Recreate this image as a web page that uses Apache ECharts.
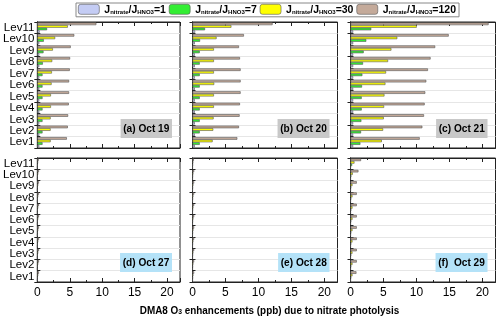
<!DOCTYPE html>
<html><head><meta charset="utf-8">
<script src="https://cdn.jsdelivr.net/npm/echarts@6/dist/echarts.min.js"></script>
<style>html,body{margin:0;padding:0;background:#fff}#c{width:500px;height:319px}</style>
</head><body><div id="c"></div>
<script>
const levels = ['Lev1','Lev2','Lev3','Lev4','Lev5','Lev6','Lev7','Lev8','Lev9','Lev10','Lev11'];
const seriesNames = ['=1','=7','=30','=120'];
const xTicks = [0,5,10,15,20];
const panelLabels = ['(a) Oct 19','(b) Oct 20','(c) Oct 21','(d) Oct 27','(e) Oct 28','(f)  Oct 29'];

// values Lev1..Lev11
const a_r1   = [0.3,0.3,0.3,0.3,0.3,0.3,0.3,0.3,0.3,0.3,0.35];
const a_r7   = [0.8,0.8,0.8,0.8,0.8,0.8,0.8,0.85,0.95,1.0,1.5];
const a_r30  = [2.05,2.05,2.05,2.1,2.1,2.2,2.25,2.3,2.4,2.75,4.7];
const a_r120 = [4.55,4.7,4.75,4.85,4.9,4.9,5.0,5.05,5.15,5.7,9.1];

const b_r1   = [0.35,0.35,0.35,0.35,0.35,0.35,0.35,0.35,0.35,0.35,0.4];
const b_r7   = [1.1,1.1,1.1,1.1,1.1,1.1,1.1,1.1,1.1,1.15,1.9];
const b_r30  = [3.05,3.15,3.2,3.25,3.25,3.3,3.25,3.25,3.25,3.65,5.9];
const b_r120 = [6.8,7.05,7.15,7.2,7.3,7.3,7.3,7.2,7.05,7.8,12.15];

const c_r1   = [0.4,0.4,0.4,0.4,0.4,0.4,0.4,0.4,0.4,0.4,0.4];
const c_r7   = [1.5,1.6,1.65,1.7,1.7,1.75,1.8,1.9,2.0,2.4,3.15];
const c_r30  = [4.75,4.95,5.05,5.1,5.15,5.3,5.4,5.7,6.2,7.1,10.05];
const c_r120 = [10.5,10.9,11.15,11.25,11.35,11.5,11.75,12.15,12.85,14.9,20.95];

const d_r1   = [0.02,0.02,0.02,0.02,0.02,0.02,0.02,0.02,0.02,0.02,0.02];
const d_r7   = [0.05,0.05,0.05,0.05,0.05,0.05,0.05,0.05,0.05,0.05,0.05];
const d_r30  = [0.12,0.12,0.12,0.12,0.12,0.12,0.12,0.12,0.12,0.12,0.1];
const d_r120 = [0.25,0.25,0.25,0.25,0.25,0.25,0.25,0.25,0.25,0.25,0.2];

const e_r1   = [0.02,0.02,0.02,0.02,0.02,0.02,0.02,0.02,0.02,0.02,0.02];
const e_r7   = [0.05,0.05,0.05,0.05,0.05,0.05,0.05,0.05,0.05,0.05,0.05];
const e_r30  = [0.12,0.12,0.12,0.12,0.12,0.12,0.12,0.12,0.12,0.12,0.1];
const e_r120 = [0.25,0.25,0.25,0.25,0.25,0.25,0.25,0.25,0.25,0.25,0.2];

const f_r1   = [0.03,0.03,0.03,0.03,0.03,0.03,0.03,0.03,0.03,0.03,0.03];
const f_r7   = [0.1,0.1,0.1,0.1,0.1,0.1,0.1,0.1,0.1,0.12,0.25];
const f_r30  = [0.3,0.3,0.3,0.3,0.3,0.3,0.3,0.3,0.3,0.35,0.6];
const f_r120 = [0.9,0.95,0.95,0.95,0.95,0.95,0.95,0.95,0.95,1.2,1.6];

const panels = [
  [a_r1,a_r7,a_r30,a_r120],[b_r1,b_r7,b_r30,b_r120],[c_r1,c_r7,c_r30,c_r120],
  [d_r1,d_r7,d_r30,d_r120],[e_r1,e_r7,e_r30,e_r120],[f_r1,f_r7,f_r30,f_r120]
];

const colors = ['#c4ccf4','#33ee33','#ffff00','#c4aa9a'];
const gridPos = [
  {left:36,top:22,width:144,height:126},{left:192.5,top:22,width:145,height:126},{left:350.5,top:22,width:145,height:126},
  {left:36,top:158,width:144,height:124},{left:192.5,top:158,width:145,height:124},{left:350.5,top:158,width:145,height:124}
];
const labelBg = ['#c8c8c8','#c8c8c8','#c8c8c8','#b4e2f8','#b4e2f8','#b4e2f8'];

const FONT = '"Liberation Sans", Arial, sans-serif';
const grids=[], xAxes=[], yAxes=[], series=[], graphics=[];
gridPos.forEach((g,i)=>{
  grids.push(Object.assign({show:true,borderColor:'#222',borderWidth:1,backgroundColor:'#fff'},g));
  const baseX = {gridIndex:i,type:'value',min:0,max:22,interval:5,
    axisLine:{show:true,lineStyle:{color:'#222',width:1}},
    axisTick:{show:true,inside:true,length:4,lineStyle:{color:'#222'}},
    minorTick:{show:true,splitNumber:2,length:2,lineStyle:{color:'#222'}},
    splitLine:{show:false}};
  xAxes.push(Object.assign({},baseX,{position:'bottom',
    axisLabel:{show:i>=3,color:'#000',fontSize:12,fontFamily:FONT,margin:5,
      formatter:v=>xTicks.includes(v)?String(v):''}}));
  xAxes.push(Object.assign({},baseX,{position:'top',axisLabel:{show:false}}));
  const baseY = {gridIndex:i,type:'category',data:levels,
    axisLine:{show:true,lineStyle:{color:'#222'}},
    axisTick:{show:true,inside:true,length:3,lineStyle:{color:'#222'}}};
  yAxes.push(Object.assign({},baseY,{position:'left',
    splitLine:{show:true,lineStyle:{color:'#e6e6e6',width:1}},
    axisLabel:{show:i%3===0,interval:0,color:'#000',fontSize:11.5,fontFamily:FONT,margin:3}}));
  yAxes.push(Object.assign({},baseY,{position:'right',axisLabel:{show:false},splitLine:{show:false}}));
  // series placed first appear at top of each category band
  [3,2,1,0].forEach(k=>{
    series.push({type:'bar',name:seriesNames[k],xAxisIndex:2*i,yAxisIndex:2*i,data:panels[i][k],
      barGap:'0%',barCategoryGap:'10%',
      itemStyle:{color:colors[k],borderColor:'#555',borderWidth:0.6},
      emphasis:{disabled:true},animation:false});
  });
  // panel label, anchored at the bottom-right corner of its grid
  graphics.push({type:'text',x:g.left+g.width-8,y:g.top+g.height-10,scaleX:0.88,z:100,
    style:{text:panelLabels[i],textAlign:'right',textVerticalAlign:'bottom',
      font:'bold 11.5px '+FONT,fill:'#000',backgroundColor:labelBg[i],padding:[4,3,3,3]}});
});

const rich = {j:{fontSize:10.5,fontWeight:'bold',fontFamily:FONT,color:'#000',lineHeight:13,verticalAlign:'bottom'},
  s:{fontSize:6,fontWeight:'bold',fontFamily:FONT,color:'#000',lineHeight:13,verticalAlign:'bottom'}};

graphics.push({type:'text',x:269.5,y:309,scaleX:0.9,z:100,style:{
    text:'{b|DMA8 O}{s|3}{b| enhancements (ppb) due to nitrate photolysis}',
    textAlign:'center',textVerticalAlign:'middle',
    rich:{b:{fontSize:11,fontWeight:'bold',fontFamily:FONT,fill:'#000',lineHeight:14,verticalAlign:'bottom'},
          s:{fontSize:7.5,fontWeight:'bold',fontFamily:FONT,fill:'#000',lineHeight:14,verticalAlign:'bottom'}}}});

const option = {
  animation:false,
  backgroundColor:'#fff',
  legend:{data:seriesNames,left:76,top:3,itemWidth:21,itemHeight:10,itemGap:3,
    padding:[1,3,1,2],borderColor:'#888',borderWidth:1,backgroundColor:'#fff',
    itemStyle:{borderColor:'#555',borderWidth:0.6},
    formatter:n=>'{j|J}{s|nitrate}{j|/J}{s|HNO3}{j|'+n+'}',
    textStyle:{rich:rich}},
  grid:grids, xAxis:xAxes, yAxis:yAxes, series:series,
  graphic:graphics
};
const chart = echarts.init(document.getElementById('c'),null,{renderer:'canvas'});
chart.setOption(option);
</script></body></html>
